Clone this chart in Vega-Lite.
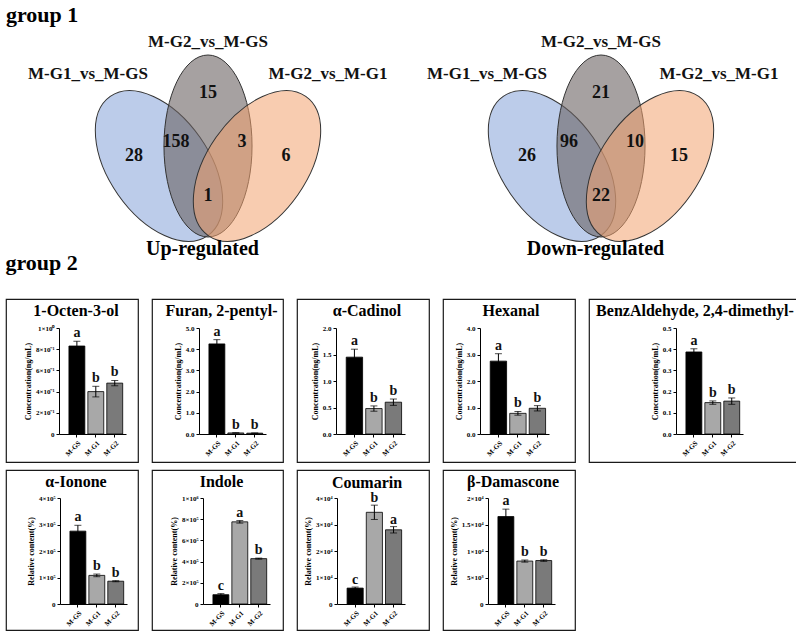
{
  "$schema": "https://vega.github.io/schema/vega-lite/v6.json",
  "padding": {"left": 5, "top": 4, "right": 0, "bottom": 0},
  "spacing": -8,
  "config": {
    "font": "Liberation Serif",
    "view": {"stroke": "#1a1a1a", "strokeWidth": 1.2},
    "title": {"font": "Liberation Serif", "fontWeight": "bold", "color": "black", "fontSize": 16},
    "axis": {"labelFont": "Liberation Serif", "titleFont": "Liberation Serif", "labelFontSize": 7, "labelFontWeight": "bold", "titleFontSize": 8, "titleFontWeight": "bold", "domainColor": "black", "tickColor": "black", "labelColor": "black", "titleColor": "black", "grid": false, "tickSize": 3, "titlePadding": 3, "labelPadding": 2, "labelOverlap": false, "labelBound": false, "labelFlush": false},
    "axisY": {"labelOverlap": false, "tickCount": 12},
    "text": {"font": "Liberation Serif", "color": "#111111"}
  },
  "datasets": {
    "bars": [
      {"compound": "1-Octen-3-ol", "sample": "M-GS", "mean": 0.83, "sd": 0.045, "letter": "a"},
      {"compound": "1-Octen-3-ol", "sample": "M-G1", "mean": 0.40, "sd": 0.05, "letter": "b"},
      {"compound": "1-Octen-3-ol", "sample": "M-G2", "mean": 0.48, "sd": 0.025, "letter": "b"},
      {"compound": "Furan, 2-pentyl-", "sample": "M-GS", "mean": 4.25, "sd": 0.2, "letter": "a"},
      {"compound": "Furan, 2-pentyl-", "sample": "M-G1", "mean": 0.05, "sd": 0.01, "letter": "b"},
      {"compound": "Furan, 2-pentyl-", "sample": "M-G2", "mean": 0.04, "sd": 0.01, "letter": "b"},
      {"compound": "α-Cadinol", "sample": "M-GS", "mean": 1.45, "sd": 0.15, "letter": "a"},
      {"compound": "α-Cadinol", "sample": "M-G1", "mean": 0.48, "sd": 0.05, "letter": "b"},
      {"compound": "α-Cadinol", "sample": "M-G2", "mean": 0.60, "sd": 0.06, "letter": "b"},
      {"compound": "Hexanal", "sample": "M-GS", "mean": 2.75, "sd": 0.28, "letter": "a"},
      {"compound": "Hexanal", "sample": "M-G1", "mean": 0.78, "sd": 0.07, "letter": "b"},
      {"compound": "Hexanal", "sample": "M-G2", "mean": 0.97, "sd": 0.10, "letter": "b"},
      {"compound": "BenzAldehyde, 2,4-dimethyl-", "sample": "M-GS", "mean": 0.387, "sd": 0.015, "letter": "a"},
      {"compound": "BenzAldehyde, 2,4-dimethyl-", "sample": "M-G1", "mean": 0.148, "sd": 0.008, "letter": "b"},
      {"compound": "BenzAldehyde, 2,4-dimethyl-", "sample": "M-G2", "mean": 0.155, "sd": 0.015, "letter": "b"},
      {"compound": "α-Ionone", "sample": "M-GS", "mean": 275000, "sd": 22000, "letter": "a"},
      {"compound": "α-Ionone", "sample": "M-G1", "mean": 108000, "sd": 5000, "letter": "b"},
      {"compound": "α-Ionone", "sample": "M-G2", "mean": 86000, "sd": 2000, "letter": "b"},
      {"compound": "Indole", "sample": "M-GS", "mean": 88000, "sd": 10000, "letter": "c"},
      {"compound": "Indole", "sample": "M-G1", "mean": 775000, "sd": 12000, "letter": "a"},
      {"compound": "Indole", "sample": "M-G2", "mean": 428000, "sd": 5000, "letter": "b"},
      {"compound": "Coumarin", "sample": "M-GS", "mean": 6000, "sd": 400, "letter": "c"},
      {"compound": "Coumarin", "sample": "M-G1", "mean": 34600, "sd": 2700, "letter": "b"},
      {"compound": "Coumarin", "sample": "M-G2", "mean": 28000, "sd": 1200, "letter": "a"},
      {"compound": "β-Damascone", "sample": "M-GS", "mean": 16500, "sd": 1400, "letter": "a"},
      {"compound": "β-Damascone", "sample": "M-G1", "mean": 8100, "sd": 200, "letter": "b"},
      {"compound": "β-Damascone", "sample": "M-G2", "mean": 8200, "sd": 150, "letter": "b"}
    ],
    "venn_sets": [
      {"diagram": "Up-regulated", "set": "M-G1_vs_M-GS", "x": 153, "y": 132},
      {"diagram": "Up-regulated", "set": "M-G2_vs_M-GS", "x": 202, "y": 112},
      {"diagram": "Up-regulated", "set": "M-G2_vs_M-G1", "x": 251, "y": 132},
      {"diagram": "Down-regulated", "set": "M-G1_vs_M-GS", "x": 153, "y": 132},
      {"diagram": "Down-regulated", "set": "M-G2_vs_M-GS", "x": 202, "y": 112},
      {"diagram": "Down-regulated", "set": "M-G2_vs_M-G1", "x": 251, "y": 132}
    ],
    "venn_labels": [
      {"diagram": "Up-regulated", "label": "M-G1_vs_M-GS", "x": 82, "y": 40},
      {"diagram": "Up-regulated", "label": "M-G2_vs_M-GS", "x": 202, "y": 8},
      {"diagram": "Up-regulated", "label": "M-G2_vs_M-G1", "x": 322, "y": 40},
      {"diagram": "Down-regulated", "label": "M-G1_vs_M-GS", "x": 88, "y": 40},
      {"diagram": "Down-regulated", "label": "M-G2_vs_M-GS", "x": 202, "y": 8},
      {"diagram": "Down-regulated", "label": "M-G2_vs_M-G1", "x": 320, "y": 40}
    ],
    "venn_counts": [
      {"diagram": "Up-regulated", "region": "M-G2_vs_M-GS only", "count": 15, "x": 202, "y": 59},
      {"diagram": "Up-regulated", "region": "M-G1_vs_M-GS & M-G2_vs_M-GS", "count": 158, "x": 170, "y": 108},
      {"diagram": "Up-regulated", "region": "M-G2_vs_M-GS & M-G2_vs_M-G1", "count": 3, "x": 236, "y": 108},
      {"diagram": "Up-regulated", "region": "M-G1_vs_M-GS only", "count": 28, "x": 128, "y": 122},
      {"diagram": "Up-regulated", "region": "M-G2_vs_M-G1 only", "count": 6, "x": 280, "y": 122},
      {"diagram": "Up-regulated", "region": "M-G1_vs_M-GS & M-G2_vs_M-G1", "count": 1, "x": 202, "y": 162},
      {"diagram": "Down-regulated", "region": "M-G2_vs_M-GS only", "count": 21, "x": 202, "y": 59},
      {"diagram": "Down-regulated", "region": "M-G1_vs_M-GS & M-G2_vs_M-GS", "count": 96, "x": 170, "y": 108},
      {"diagram": "Down-regulated", "region": "M-G2_vs_M-GS & M-G2_vs_M-G1", "count": 10, "x": 236, "y": 108},
      {"diagram": "Down-regulated", "region": "M-G1_vs_M-GS only", "count": 26, "x": 128, "y": 122},
      {"diagram": "Down-regulated", "region": "M-G2_vs_M-G1 only", "count": 15, "x": 280, "y": 122},
      {"diagram": "Down-regulated", "region": "M-G1_vs_M-GS & M-G2_vs_M-G1", "count": 22, "x": 202, "y": 162}
    ]
  },
  "vconcat": [
    {
      "title": {"text": "group 1", "anchor": "start", "fontSize": 22, "offset": 6},
      "spacing": 0,
      "hconcat": [
        {
          "width": 393, "height": 204,
          "view": {"stroke": null},
          "title": {"text": "Up-regulated", "orient": "bottom", "fontSize": 20, "offset": -4},
          "encoding": {
            "x": {"field": "x", "type": "quantitative", "scale": {"domain": [0, 393], "nice": false, "zero": false}, "axis": null},
            "y": {"field": "y", "type": "quantitative", "scale": {"domain": [0, 204], "nice": false, "zero": false, "reverse": true}, "axis": null}
          },
          "layer": [
            {"data": {"name": "venn_sets"}, "transform": [{"filter": "datum.diagram === 'Up-regulated' && datum.set === 'M-G1_vs_M-GS'"}],
             "mark": {"type": "point", "shape": "M 0 -1 C 0.325 -1 0.588 -0.552 0.588 0 C 0.588 0.552 0.325 1 0 1 C -0.325 1 -0.588 0.552 -0.588 0 C -0.588 -0.552 -0.325 -1 0 -1 Z", "size": 28900, "angle": -35, "filled": true, "fill": "#8faadc", "fillOpacity": 0.6, "stroke": "#333333", "strokeWidth": 1, "strokeOpacity": 1, "opacity": 1}},
            {"data": {"name": "venn_sets"}, "transform": [{"filter": "datum.diagram === 'Up-regulated' && datum.set === 'M-G2_vs_M-GS'"}],
             "mark": {"type": "point", "shape": "M 0 -1 C 0.267 -1 0.484 -0.552 0.484 0 C 0.484 0.552 0.267 1 0 1 C -0.267 1 -0.484 0.552 -0.484 0 C -0.484 -0.552 -0.267 -1 0 -1 Z", "size": 33124, "angle": 0, "filled": true, "fill": "#6b6363", "fillOpacity": 0.6, "stroke": "#333333", "strokeWidth": 1, "strokeOpacity": 1, "opacity": 1}},
            {"data": {"name": "venn_sets"}, "transform": [{"filter": "datum.diagram === 'Up-regulated' && datum.set === 'M-G2_vs_M-G1'"}],
             "mark": {"type": "point", "shape": "M 0 -1 C 0.325 -1 0.588 -0.552 0.588 0 C 0.588 0.552 0.325 1 0 1 C -0.325 1 -0.588 0.552 -0.588 0 C -0.588 -0.552 -0.325 -1 0 -1 Z", "size": 28900, "angle": 35, "filled": true, "fill": "#f3a26f", "fillOpacity": 0.55, "stroke": "#333333", "strokeWidth": 1, "strokeOpacity": 1, "opacity": 1}},
            {"data": {"name": "venn_labels"}, "transform": [{"filter": "datum.diagram === 'Up-regulated'"}],
             "mark": {"type": "text", "fontSize": 17, "fontWeight": "bold", "baseline": "middle"},
             "encoding": {"text": {"field": "label", "type": "nominal"}}},
            {"data": {"name": "venn_counts"}, "transform": [{"filter": "datum.diagram === 'Up-regulated'"}],
             "mark": {"type": "text", "fontSize": 18, "fontWeight": "bold", "baseline": "middle"},
             "encoding": {"text": {"field": "count", "type": "nominal"}}}
          ]
        },
        {
          "width": 393, "height": 204,
          "view": {"stroke": null},
          "title": {"text": "Down-regulated", "orient": "bottom", "fontSize": 20, "offset": -4},
          "encoding": {
            "x": {"field": "x", "type": "quantitative", "scale": {"domain": [0, 393], "nice": false, "zero": false}, "axis": null},
            "y": {"field": "y", "type": "quantitative", "scale": {"domain": [0, 204], "nice": false, "zero": false, "reverse": true}, "axis": null}
          },
          "layer": [
            {"data": {"name": "venn_sets"}, "transform": [{"filter": "datum.diagram === 'Down-regulated' && datum.set === 'M-G1_vs_M-GS'"}],
             "mark": {"type": "point", "shape": "M 0 -1 C 0.325 -1 0.588 -0.552 0.588 0 C 0.588 0.552 0.325 1 0 1 C -0.325 1 -0.588 0.552 -0.588 0 C -0.588 -0.552 -0.325 -1 0 -1 Z", "size": 28900, "angle": -35, "filled": true, "fill": "#8faadc", "fillOpacity": 0.6, "stroke": "#333333", "strokeWidth": 1, "strokeOpacity": 1, "opacity": 1}},
            {"data": {"name": "venn_sets"}, "transform": [{"filter": "datum.diagram === 'Down-regulated' && datum.set === 'M-G2_vs_M-GS'"}],
             "mark": {"type": "point", "shape": "M 0 -1 C 0.267 -1 0.484 -0.552 0.484 0 C 0.484 0.552 0.267 1 0 1 C -0.267 1 -0.484 0.552 -0.484 0 C -0.484 -0.552 -0.267 -1 0 -1 Z", "size": 33124, "angle": 0, "filled": true, "fill": "#6b6363", "fillOpacity": 0.6, "stroke": "#333333", "strokeWidth": 1, "strokeOpacity": 1, "opacity": 1}},
            {"data": {"name": "venn_sets"}, "transform": [{"filter": "datum.diagram === 'Down-regulated' && datum.set === 'M-G2_vs_M-G1'"}],
             "mark": {"type": "point", "shape": "M 0 -1 C 0.325 -1 0.588 -0.552 0.588 0 C 0.588 0.552 0.325 1 0 1 C -0.325 1 -0.588 0.552 -0.588 0 C -0.588 -0.552 -0.325 -1 0 -1 Z", "size": 28900, "angle": 35, "filled": true, "fill": "#f3a26f", "fillOpacity": 0.55, "stroke": "#333333", "strokeWidth": 1, "strokeOpacity": 1, "opacity": 1}},
            {"data": {"name": "venn_labels"}, "transform": [{"filter": "datum.diagram === 'Down-regulated'"}],
             "mark": {"type": "text", "fontSize": 17, "fontWeight": "bold", "baseline": "middle"},
             "encoding": {"text": {"field": "label", "type": "nominal"}}},
            {"data": {"name": "venn_counts"}, "transform": [{"filter": "datum.diagram === 'Down-regulated'"}],
             "mark": {"type": "text", "fontSize": 18, "fontWeight": "bold", "baseline": "middle"},
             "encoding": {"text": {"field": "count", "type": "nominal"}}}
          ]
        }
      ]
    },
    {
      "title": {"text": "group 2", "anchor": "start", "fontSize": 22, "offset": 23},
      "spacing": 6,
      "vconcat": [
        {
          "spacing": 12,
          "hconcat": [
            {
              "width": 132, "height": 163,
              "title": {"text": "1-Octen-3-ol", "offset": -33, "baseline": "alphabetic", "dx": 4},
              "data": {"name": "bars"},
              "transform": [{"filter": "datum.compound === '1-Octen-3-ol'"}, {"calculate": "datum.mean + datum.sd", "as": "upper"}],
              "encoding": {"x": {"field": "sample", "type": "nominal", "sort": ["M-GS", "M-G1", "M-G2"], "title": null, "scale": {"range": [53, 120], "paddingInner": 0.16, "paddingOuter": 0.35, "align": 0.75}, "axis": {"offset": -28, "labelAngle": -45}}},
              "layer": [
                {"mark": {"type": "bar", "stroke": "black", "strokeWidth": 0.8},
                 "encoding": {"y": {"field": "mean", "type": "quantitative", "title": "Concentration(ng/mL)", "scale": {"domain": [0, 1], "range": [135, 29], "nice": false}, "axis": {"offset": -53, "tickCount": 12, "labelOverlap": false, "values": [0, 0.2, 0.4, 0.6, 0.8, 1], "labelExpr": "datum.value == 0 ? '0' : format(datum.value / pow(10, floor(log(datum.value) / LN10 + 1e-9)), '~g') + '×10' + (floor(log(datum.value) / LN10 + 1e-9) < 0 ? '⁻' : '') + ['⁰','¹','²','³','⁴','⁵','⁶','⁷','⁸','⁹'][abs(floor(log(datum.value) / LN10 + 1e-9))]"}},
                  "fill": {"field": "sample", "type": "nominal", "scale": {"domain": ["M-GS", "M-G1", "M-G2"], "range": ["#000000", "#a8a8a8", "#7a7a7a"]}, "legend": null}}},
                {"mark": {"type": "errorbar", "ticks": {"size": 7}, "color": "black"}, "encoding": {"y": {"field": "mean", "type": "quantitative", "title": "Concentration(ng/mL)"}, "yError": {"field": "sd"}}},
                {"mark": {"type": "text", "baseline": "bottom", "dy": -1, "fontSize": 14, "fontWeight": "bold"}, "encoding": {"y": {"field": "upper", "type": "quantitative", "title": "Concentration(ng/mL)"}, "text": {"field": "letter", "type": "nominal"}}}
              ]
            },
            {
              "width": 131, "height": 163,
              "title": {"text": "Furan, 2-pentyl-", "offset": -33, "baseline": "alphabetic", "dx": 4},
              "data": {"name": "bars"},
              "transform": [{"filter": "datum.compound === 'Furan, 2-pentyl-'"}, {"calculate": "datum.mean + datum.sd", "as": "upper"}],
              "encoding": {"x": {"field": "sample", "type": "nominal", "sort": ["M-GS", "M-G1", "M-G2"], "title": null, "scale": {"range": [47, 114], "paddingInner": 0.16, "paddingOuter": 0.35, "align": 0.75}, "axis": {"offset": -28, "labelAngle": -45}}},
              "layer": [
                {"mark": {"type": "bar", "stroke": "black", "strokeWidth": 0.8},
                 "encoding": {"y": {"field": "mean", "type": "quantitative", "title": "Concentration(ng/mL)", "scale": {"domain": [0, 5], "range": [135, 29], "nice": false}, "axis": {"offset": -47, "tickCount": 12, "labelOverlap": false, "values": [0, 1, 2, 3, 4, 5], "format": ".1f"}},
                  "fill": {"field": "sample", "type": "nominal", "scale": {"domain": ["M-GS", "M-G1", "M-G2"], "range": ["#000000", "#a8a8a8", "#7a7a7a"]}, "legend": null}}},
                {"mark": {"type": "errorbar", "ticks": {"size": 7}, "color": "black"}, "encoding": {"y": {"field": "mean", "type": "quantitative", "title": "Concentration(ng/mL)"}, "yError": {"field": "sd"}}},
                {"mark": {"type": "text", "baseline": "bottom", "dy": -1, "fontSize": 14, "fontWeight": "bold"}, "encoding": {"y": {"field": "upper", "type": "quantitative", "title": "Concentration(ng/mL)"}, "text": {"field": "letter", "type": "nominal"}}}
              ]
            },
            {
              "width": 132, "height": 163,
              "title": {"text": "α-Cadinol", "offset": -33, "baseline": "alphabetic", "dx": 4},
              "data": {"name": "bars"},
              "transform": [{"filter": "datum.compound === 'α-Cadinol'"}, {"calculate": "datum.mean + datum.sd", "as": "upper"}],
              "encoding": {"x": {"field": "sample", "type": "nominal", "sort": ["M-GS", "M-G1", "M-G2"], "title": null, "scale": {"range": [39, 108], "paddingInner": 0.16, "paddingOuter": 0.35, "align": 0.75}, "axis": {"offset": -28, "labelAngle": -45}}},
              "layer": [
                {"mark": {"type": "bar", "stroke": "black", "strokeWidth": 0.8},
                 "encoding": {"y": {"field": "mean", "type": "quantitative", "title": "Concentration(ng/mL)", "scale": {"domain": [0, 2], "range": [135, 29], "nice": false}, "axis": {"offset": -39, "tickCount": 12, "labelOverlap": false, "values": [0, 0.5, 1, 1.5, 2], "format": ".1f"}},
                  "fill": {"field": "sample", "type": "nominal", "scale": {"domain": ["M-GS", "M-G1", "M-G2"], "range": ["#000000", "#a8a8a8", "#7a7a7a"]}, "legend": null}}},
                {"mark": {"type": "errorbar", "ticks": {"size": 7}, "color": "black"}, "encoding": {"y": {"field": "mean", "type": "quantitative", "title": "Concentration(ng/mL)"}, "yError": {"field": "sd"}}},
                {"mark": {"type": "text", "baseline": "bottom", "dy": -1, "fontSize": 14, "fontWeight": "bold"}, "encoding": {"y": {"field": "upper", "type": "quantitative", "title": "Concentration(ng/mL)"}, "text": {"field": "letter", "type": "nominal"}}}
              ]
            },
            {
              "width": 132, "height": 163,
              "title": {"text": "Hexanal", "offset": -33, "baseline": "alphabetic", "dx": 2},
              "data": {"name": "bars"},
              "transform": [{"filter": "datum.compound === 'Hexanal'"}, {"calculate": "datum.mean + datum.sd", "as": "upper"}],
              "encoding": {"x": {"field": "sample", "type": "nominal", "sort": ["M-GS", "M-G1", "M-G2"], "title": null, "scale": {"range": [37, 106], "paddingInner": 0.16, "paddingOuter": 0.35, "align": 0.75}, "axis": {"offset": -28, "labelAngle": -45}}},
              "layer": [
                {"mark": {"type": "bar", "stroke": "black", "strokeWidth": 0.8},
                 "encoding": {"y": {"field": "mean", "type": "quantitative", "title": "Concentration(ng/mL)", "scale": {"domain": [0, 4], "range": [135, 29], "nice": false}, "axis": {"offset": -37, "tickCount": 12, "labelOverlap": false, "values": [0, 1, 2, 3, 4], "format": ".1f"}},
                  "fill": {"field": "sample", "type": "nominal", "scale": {"domain": ["M-GS", "M-G1", "M-G2"], "range": ["#000000", "#a8a8a8", "#7a7a7a"]}, "legend": null}}},
                {"mark": {"type": "errorbar", "ticks": {"size": 7}, "color": "black"}, "encoding": {"y": {"field": "mean", "type": "quantitative", "title": "Concentration(ng/mL)"}, "yError": {"field": "sd"}}},
                {"mark": {"type": "text", "baseline": "bottom", "dy": -1, "fontSize": 14, "fontWeight": "bold"}, "encoding": {"y": {"field": "upper", "type": "quantitative", "title": "Concentration(ng/mL)"}, "text": {"field": "letter", "type": "nominal"}}}
              ]
            },
            {
              "width": 212, "height": 163,
              "title": {"text": "BenzAldehyde, 2,4-dimethyl-", "offset": -33, "baseline": "alphabetic", "dx": 0},
              "data": {"name": "bars"},
              "transform": [{"filter": "datum.compound === 'BenzAldehyde, 2,4-dimethyl-'"}, {"calculate": "datum.mean + datum.sd", "as": "upper"}],
              "encoding": {"x": {"field": "sample", "type": "nominal", "sort": ["M-GS", "M-G1", "M-G2"], "title": null, "scale": {"range": [87, 154], "paddingInner": 0.16, "paddingOuter": 0.35, "align": 0.75}, "axis": {"offset": -28, "labelAngle": -45}}},
              "layer": [
                {"mark": {"type": "bar", "stroke": "black", "strokeWidth": 0.8},
                 "encoding": {"y": {"field": "mean", "type": "quantitative", "title": "Concentration(ng/mL)", "scale": {"domain": [0, 0.5], "range": [135, 29], "nice": false}, "axis": {"offset": -87, "tickCount": 12, "labelOverlap": false, "values": [0, 0.1, 0.2, 0.3, 0.4, 0.5], "format": ".1f"}},
                  "fill": {"field": "sample", "type": "nominal", "scale": {"domain": ["M-GS", "M-G1", "M-G2"], "range": ["#000000", "#a8a8a8", "#7a7a7a"]}, "legend": null}}},
                {"mark": {"type": "errorbar", "ticks": {"size": 7}, "color": "black"}, "encoding": {"y": {"field": "mean", "type": "quantitative", "title": "Concentration(ng/mL)"}, "yError": {"field": "sd"}}},
                {"mark": {"type": "text", "baseline": "bottom", "dy": -1, "fontSize": 14, "fontWeight": "bold"}, "encoding": {"y": {"field": "upper", "type": "quantitative", "title": "Concentration(ng/mL)"}, "text": {"field": "letter", "type": "nominal"}}}
              ]
            }
          ]
        },
        {
          "spacing": 12,
          "hconcat": [
            {
              "width": 132, "height": 160,
              "title": {"text": "α-Ionone", "offset": -33, "baseline": "alphabetic", "dx": 4},
              "data": {"name": "bars"},
              "transform": [{"filter": "datum.compound === 'α-Ionone'"}, {"calculate": "datum.mean + datum.sd", "as": "upper"}],
              "encoding": {"x": {"field": "sample", "type": "nominal", "sort": ["M-GS", "M-G1", "M-G2"], "title": null, "scale": {"range": [54, 121], "paddingInner": 0.16, "paddingOuter": 0.35, "align": 0.75}, "axis": {"offset": -26, "labelAngle": -45}}},
              "layer": [
                {"mark": {"type": "bar", "stroke": "black", "strokeWidth": 0.8},
                 "encoding": {"y": {"field": "mean", "type": "quantitative", "title": "Relative content(%)", "scale": {"domain": [0, 400000], "range": [134, 28], "nice": false}, "axis": {"offset": -54, "tickCount": 12, "labelOverlap": false, "values": [0, 100000, 200000, 300000, 400000], "labelExpr": "datum.value == 0 ? '0' : format(datum.value / pow(10, floor(log(datum.value) / LN10 + 1e-9)), '~g') + '×10' + (floor(log(datum.value) / LN10 + 1e-9) < 0 ? '⁻' : '') + ['⁰','¹','²','³','⁴','⁵','⁶','⁷','⁸','⁹'][abs(floor(log(datum.value) / LN10 + 1e-9))]"}},
                  "fill": {"field": "sample", "type": "nominal", "scale": {"domain": ["M-GS", "M-G1", "M-G2"], "range": ["#000000", "#a8a8a8", "#7a7a7a"]}, "legend": null}}},
                {"mark": {"type": "errorbar", "ticks": {"size": 7}, "color": "black"}, "encoding": {"y": {"field": "mean", "type": "quantitative", "title": "Relative content(%)"}, "yError": {"field": "sd"}}},
                {"mark": {"type": "text", "baseline": "bottom", "dy": -1, "fontSize": 14, "fontWeight": "bold"}, "encoding": {"y": {"field": "upper", "type": "quantitative", "title": "Relative content(%)"}, "text": {"field": "letter", "type": "nominal"}}}
              ]
            },
            {
              "width": 131, "height": 160,
              "title": {"text": "Indole", "offset": -33, "baseline": "alphabetic", "dx": 4},
              "data": {"name": "bars"},
              "transform": [{"filter": "datum.compound === 'Indole'"}, {"calculate": "datum.mean + datum.sd", "as": "upper"}],
              "encoding": {"x": {"field": "sample", "type": "nominal", "sort": ["M-GS", "M-G1", "M-G2"], "title": null, "scale": {"range": [51, 118], "paddingInner": 0.16, "paddingOuter": 0.35, "align": 0.75}, "axis": {"offset": -26, "labelAngle": -45}}},
              "layer": [
                {"mark": {"type": "bar", "stroke": "black", "strokeWidth": 0.8},
                 "encoding": {"y": {"field": "mean", "type": "quantitative", "title": "Relative content(%)", "scale": {"domain": [0, 1000000], "range": [134, 28], "nice": false}, "axis": {"offset": -51, "tickCount": 12, "labelOverlap": false, "values": [0, 200000, 400000, 600000, 800000, 1000000], "labelExpr": "datum.value == 0 ? '0' : format(datum.value / pow(10, floor(log(datum.value) / LN10 + 1e-9)), '~g') + '×10' + (floor(log(datum.value) / LN10 + 1e-9) < 0 ? '⁻' : '') + ['⁰','¹','²','³','⁴','⁵','⁶','⁷','⁸','⁹'][abs(floor(log(datum.value) / LN10 + 1e-9))]"}},
                  "fill": {"field": "sample", "type": "nominal", "scale": {"domain": ["M-GS", "M-G1", "M-G2"], "range": ["#000000", "#a8a8a8", "#7a7a7a"]}, "legend": null}}},
                {"mark": {"type": "errorbar", "ticks": {"size": 7}, "color": "black"}, "encoding": {"y": {"field": "mean", "type": "quantitative", "title": "Relative content(%)"}, "yError": {"field": "sd"}}},
                {"mark": {"type": "text", "baseline": "bottom", "dy": -1, "fontSize": 14, "fontWeight": "bold"}, "encoding": {"y": {"field": "upper", "type": "quantitative", "title": "Relative content(%)"}, "text": {"field": "letter", "type": "nominal"}}}
              ]
            },
            {
              "width": 132, "height": 160,
              "title": {"text": "Coumarin", "offset": -34, "baseline": "alphabetic", "dx": 4},
              "data": {"name": "bars"},
              "transform": [{"filter": "datum.compound === 'Coumarin'"}, {"calculate": "datum.mean + datum.sd", "as": "upper"}],
              "encoding": {"x": {"field": "sample", "type": "nominal", "sort": ["M-GS", "M-G1", "M-G2"], "title": null, "scale": {"range": [40, 108], "paddingInner": 0.16, "paddingOuter": 0.35, "align": 0.75}, "axis": {"offset": -26, "labelAngle": -45}}},
              "layer": [
                {"mark": {"type": "bar", "stroke": "black", "strokeWidth": 0.8},
                 "encoding": {"y": {"field": "mean", "type": "quantitative", "title": "Relative content(%)", "scale": {"domain": [0, 40000], "range": [134, 28], "nice": false}, "axis": {"offset": -40, "tickCount": 12, "labelOverlap": false, "values": [0, 10000, 20000, 30000, 40000], "labelExpr": "datum.value == 0 ? '0' : format(datum.value / pow(10, floor(log(datum.value) / LN10 + 1e-9)), '~g') + '×10' + (floor(log(datum.value) / LN10 + 1e-9) < 0 ? '⁻' : '') + ['⁰','¹','²','³','⁴','⁵','⁶','⁷','⁸','⁹'][abs(floor(log(datum.value) / LN10 + 1e-9))]"}},
                  "fill": {"field": "sample", "type": "nominal", "scale": {"domain": ["M-GS", "M-G1", "M-G2"], "range": ["#000000", "#a8a8a8", "#7a7a7a"]}, "legend": null}}},
                {"mark": {"type": "errorbar", "ticks": {"size": 7}, "color": "black"}, "encoding": {"y": {"field": "mean", "type": "quantitative", "title": "Relative content(%)"}, "yError": {"field": "sd"}}},
                {"mark": {"type": "text", "baseline": "bottom", "dy": 0, "fontSize": 14, "fontWeight": "bold"}, "encoding": {"y": {"field": "upper", "type": "quantitative", "title": "Relative content(%)"}, "text": {"field": "letter", "type": "nominal"}}}
              ]
            },
            {
              "width": 132, "height": 160,
              "title": {"text": "β-Damascone", "offset": -33, "baseline": "alphabetic", "dx": 4},
              "data": {"name": "bars"},
              "transform": [{"filter": "datum.compound === 'β-Damascone'"}, {"calculate": "datum.mean + datum.sd", "as": "upper"}],
              "encoding": {"x": {"field": "sample", "type": "nominal", "sort": ["M-GS", "M-G1", "M-G2"], "title": null, "scale": {"range": [45, 112], "paddingInner": 0.16, "paddingOuter": 0.35, "align": 0.75}, "axis": {"offset": -26, "labelAngle": -45}}},
              "layer": [
                {"mark": {"type": "bar", "stroke": "black", "strokeWidth": 0.8},
                 "encoding": {"y": {"field": "mean", "type": "quantitative", "title": "Relative content(%)", "scale": {"domain": [0, 20000], "range": [134, 28], "nice": false}, "axis": {"offset": -45, "tickCount": 12, "labelOverlap": false, "values": [0, 5000, 10000, 15000, 20000], "labelExpr": "datum.value == 0 ? '0' : format(datum.value / pow(10, floor(log(datum.value) / LN10 + 1e-9)), '~g') + '×10' + (floor(log(datum.value) / LN10 + 1e-9) < 0 ? '⁻' : '') + ['⁰','¹','²','³','⁴','⁵','⁶','⁷','⁸','⁹'][abs(floor(log(datum.value) / LN10 + 1e-9))]"}},
                  "fill": {"field": "sample", "type": "nominal", "scale": {"domain": ["M-GS", "M-G1", "M-G2"], "range": ["#000000", "#a8a8a8", "#7a7a7a"]}, "legend": null}}},
                {"mark": {"type": "errorbar", "ticks": {"size": 7}, "color": "black"}, "encoding": {"y": {"field": "mean", "type": "quantitative", "title": "Relative content(%)"}, "yError": {"field": "sd"}}},
                {"mark": {"type": "text", "baseline": "bottom", "dy": -1, "fontSize": 14, "fontWeight": "bold"}, "encoding": {"y": {"field": "upper", "type": "quantitative", "title": "Relative content(%)"}, "text": {"field": "letter", "type": "nominal"}}}
              ]
            }
          ]
        }
      ]
    }
  ]
}
